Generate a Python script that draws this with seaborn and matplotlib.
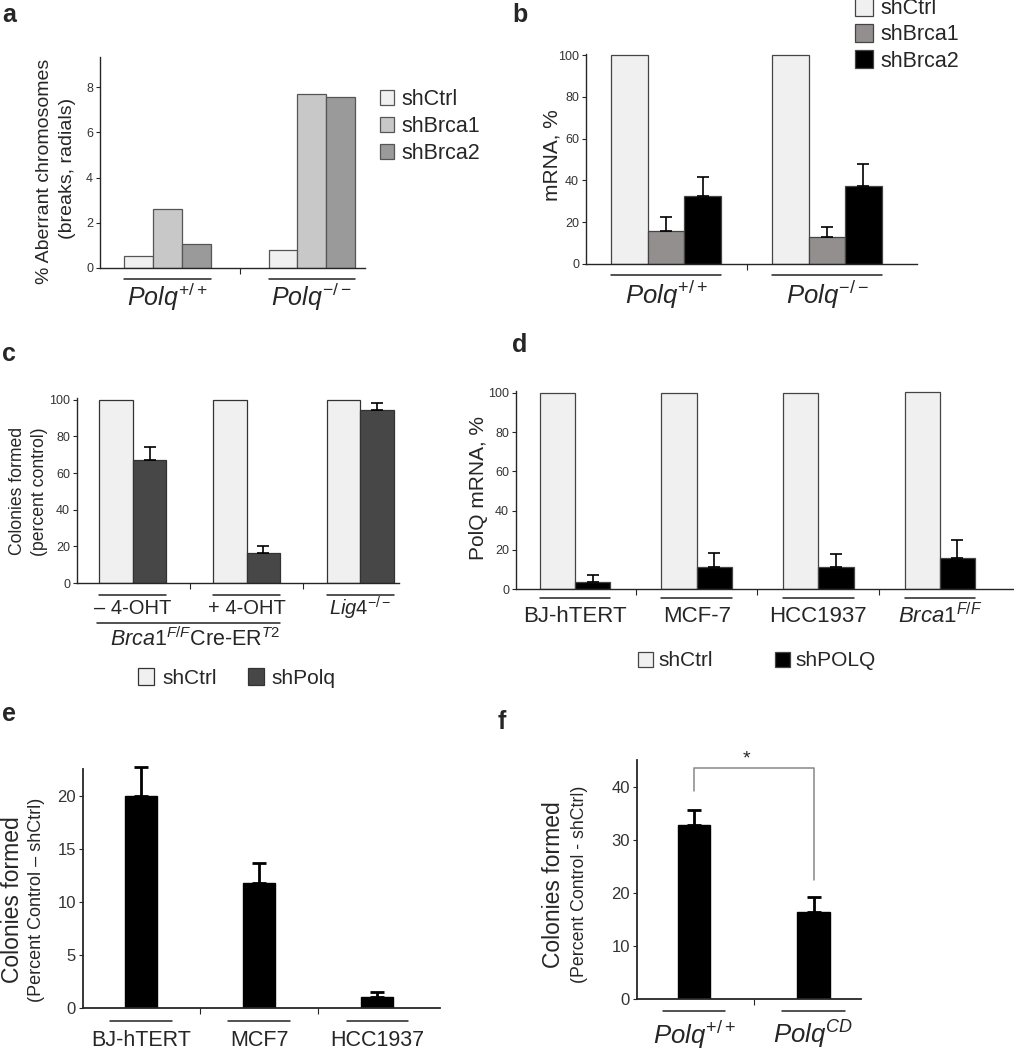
import numpy as np
import pandas as pd
import matplotlib
matplotlib.use("Agg")
import matplotlib.pyplot as plt
import matplotlib.transforms as mtrans
import seaborn as sns

sns.set_style("ticks")
plt.rcParams['font.family'] = ['Liberation Sans', 'DejaVu Sans']
plt.rcParams['mathtext.fontset'] = 'custom'
plt.rcParams['mathtext.rm'] = 'Liberation Sans'
plt.rcParams['mathtext.it'] = 'Liberation Sans:italic'
plt.rcParams['mathtext.bf'] = 'Liberation Sans:bold'
plt.rcParams['axes.linewidth'] = 1.0

# ---- data ----
# a
a_groups = [r"$Polq^{+/+}$", r"$Polq^{-/-}$"]
a_hue = ["shCtrl", "shBrca1", "shBrca2"]
a_vals = {"shCtrl": [0.55, 0.8], "shBrca1": [2.6, 7.7], "shBrca2": [1.05, 7.55]}

# b
b_groups = [r"$Polq^{+/+}$", r"$Polq^{-/-}$"]
b_hue = ["shCtrl", "shBrca1", "shBrca2"]
b_vals = {"shCtrl": [100, 100], "shBrca1": [15.8, 13.0], "shBrca2": [32.5, 37.5]}
b_err = {"shCtrl": [0, 0], "shBrca1": [6.5, 4.5], "shBrca2": [9.3, 10.5]}

# c
c_groups = ["– 4-OHT", "+ 4-OHT", r"$\mathit{Lig4}^{-/-}$"]
c_hue = ["shCtrl", "shPolq"]
c_vals = {"shCtrl": [100, 100, 100], "shPolq": [67.3, 16.4, 94.2]}
c_err = {"shCtrl": [0, 0, 0], "shPolq": [7.0, 3.6, 4.3]}

# d
d_groups = ["BJ-hTERT", "MCF-7", "HCC1937", r"$\mathit{Brca1}^{F/F}$"]
d_hue = ["shCtrl", "shPOLQ"]
d_vals = {"shCtrl": [100, 100, 100, 100.3], "shPOLQ": [3.7, 11.4, 11.1, 15.7]}
d_err = {"shCtrl": [0, 0, 0, 0], "shPOLQ": [3.6, 7.0, 6.8, 9.3]}

# e
e_groups = ["BJ-hTERT", "MCF7", "HCC1937"]
e_vals = [20.0, 11.8, 1.07]
e_err = [2.8, 1.95, 0.47]

# f
f_groups = [r"$Polq^{+/+}$", r"$Polq^{CD}$"]
f_vals = [32.8, 16.4]
f_err = [2.8, 2.9]

W, H = 1014, 1050
fig = plt.figure(figsize=(W / 100, H / 100), dpi=100)


def rect(l, t, r, b):
    return [l / W, 1 - b / H, (r - l) / W, (b - t) / H]


def long_df(groups, hue, vals):
    rows = []
    for h in hue:
        for g, v in zip(groups, vals[h]):
            rows.append({"group": g, "sh": h, "value": v})
    df = pd.DataFrame(rows)
    df["group"] = pd.Categorical(df["group"], categories=groups, ordered=True)
    return df


def style_axis(ax, ylim, xlim, yticks, labelsize, n):
    ax.set_ylim(*ylim)
    ax.set_xlim(*xlim)
    ax.set_yticks(yticks)
    ax.set_xlabel("")
    ax.set_ylabel("")
    sns.despine(ax=ax)
    ax.tick_params(axis='y', length=3, width=0.8, pad=2, labelsize=labelsize, labelcolor='#333333')
    ax.set_xticks(range(n))
    ax.set_xticklabels([])
    ax.tick_params(axis='x', which='major', length=0)
    ax.set_xticks([i + 0.5 for i in range(n - 1)], minor=True)
    ax.tick_params(axis='x', which='minor', length=4, width=0.8, direction='out')


def group_labels(ax, labels, half, under_px, label_px, fontsize):
    tl = ax.get_xaxis_transform() + mtrans.ScaledTranslation(0, -under_px / 100, fig.dpi_scale_trans)
    tt = ax.get_xaxis_transform() + mtrans.ScaledTranslation(0, -label_px / 100, fig.dpi_scale_trans)
    for i, lab in enumerate(labels):
        ax.plot([i - half, i + half], [0, 0], color='#222222', lw=1.1, transform=tl, clip_on=False)
        ax.text(i, 0, lab, ha='center', va='center', fontsize=fontsize, transform=tt)


def add_errors(ax, errs, lw, cap):
    for cont, e in zip(ax.containers, errs):
        xs = [b.get_x() + b.get_width() / 2 for b in cont]
        ys = [b.get_height() for b in cont]
        e = np.array(e, dtype=float)
        keep = e > 0
        if keep.any():
            eb = ax.errorbar(np.array(xs)[keep], np.array(ys)[keep],
                             yerr=[np.zeros(keep.sum()), e[keep]], fmt='none',
                             ecolor='black', elinewidth=lw, capsize=cap, capthick=lw, zorder=1)
            for art in eb.lines[1] + eb.lines[2]:
                art.set_clip_on(False)


def letter(x, y, s):
    fig.text(x / W, 1 - y / H, s, fontsize=18, fontweight='bold', ha='left', va='center')


def vlabel(x, y, s, size):
    fig.text(x / W, 1 - y / H, s, fontsize=size, rotation=90, ha='center', va='center')


# ---- panel a ----
ax = fig.add_axes(rect(100, 57, 365, 268))
df = long_df(a_groups, a_hue, a_vals)
sns.barplot(data=df, x="group", y="value", hue="sh", hue_order=a_hue,
            palette=['#f0f0f0', '#c8c8c8', '#9a9a9a'], width=0.6,
            edgecolor='#555555', linewidth=0.9, errorbar=None, ax=ax)
style_axis(ax, (0, 9.34), (-0.47, 1.37), [0, 2, 4, 6, 8], 9, 2)
group_labels(ax, a_groups, 0.3, 11, 29, 18)
sns.move_legend(ax, 'upper left', bbox_to_anchor=(380 / W, 1 - 89 / H), bbox_transform=fig.transFigure,
                title=None, frameon=False, fontsize=15.5, handlelength=0.65, handleheight=0.7,
                labelspacing=0.27, handletextpad=0.35, borderpad=0, borderaxespad=0)
vlabel(45, 171, "% Aberrant chromosomes", 14)
vlabel(68, 168, "(breaks, radials)", 14)
letter(2, 15, "a")

# ---- panel b ----
ax = fig.add_axes(rect(586, 54, 917, 264))
df = long_df(b_groups, b_hue, b_vals)
sns.barplot(data=df, x="group", y="value", hue="sh", hue_order=b_hue,
            palette=['#f0f0f0', '#958e8e', '#000000'], width=0.68,
            edgecolor='#444444', linewidth=0.9, errorbar=None, ax=ax)
add_errors(ax, [b_err[h] for h in b_hue], 1.2, 4)
style_axis(ax, (0, 100.5), (-0.497, 1.559), [0, 20, 40, 60, 80, 100], 9, 2)
group_labels(ax, b_groups, 0.34, 11, 31, 18.5)
sns.move_legend(ax, 'upper left', bbox_to_anchor=(855 / W, 1 + 2 / H), bbox_transform=fig.transFigure,
                title=None, frameon=False, fontsize=15.5, handlelength=0.82, handleheight=0.9,
                labelspacing=0.22, handletextpad=0.34, borderpad=0, borderaxespad=0)
vlabel(552, 155, "mRNA, %", 15)
letter(512, 15, "b")

# ---- panel c ----
ax = fig.add_axes(rect(77, 398, 399, 583))
df = long_df(c_groups, c_hue, c_vals)
sns.barplot(data=df, x="group", y="value", hue="sh", hue_order=c_hue,
            palette=['#f0f0f0', '#474747'], width=0.59,
            edgecolor='#333333', linewidth=0.9, errorbar=None, ax=ax)
add_errors(ax, [c_err[h] for h in c_hue], 1.2, 4)
style_axis(ax, (0, 101), (-0.49, 2.34), [0, 20, 40, 60, 80, 100], 9, 3)
group_labels(ax, c_groups, 0.295, 12, 25, 14.5)
tl = ax.get_xaxis_transform() + mtrans.ScaledTranslation(0, -40 / 100, fig.dpi_scale_trans)
ax.plot([-0.31, 1.295], [0, 0], color='#222222', lw=1.1, transform=tl, clip_on=False)
tt = ax.get_xaxis_transform() + mtrans.ScaledTranslation(0, -56 / 100, fig.dpi_scale_trans)
ax.text(0.55, 0, r"$\mathit{Brca1}^{F/F}$Cre-ER$^{T2}$", ha='center', va='center', fontsize=15.5, transform=tt)
sns.move_legend(ax, 'center left', bbox_to_anchor=(138 / W, 1 - 678 / H), bbox_transform=fig.transFigure,
                title=None, frameon=False, ncol=2, fontsize=15, handlelength=0.77, handleheight=0.87,
                columnspacing=1.5, handletextpad=0.38, borderpad=0, borderaxespad=0)
vlabel(18, 491, "Colonies formed", 12.7)
vlabel(39, 492, "(percent control)", 12.7)
letter(2, 354, "c")

# ---- panel d ----
ax = fig.add_axes(rect(516, 391, 1014, 589))
df = long_df(d_groups, d_hue, d_vals)
sns.barplot(data=df, x="group", y="value", hue="sh", hue_order=d_hue,
            palette=['#f0f0f0', '#000000'], width=0.58,
            edgecolor='#444444', linewidth=0.9, errorbar=None, ax=ax)
add_errors(ax, [d_err[h] for h in d_hue], 1.2, 4)
style_axis(ax, (0, 101), (-0.486, 3.61), [0, 20, 40, 60, 80, 100], 9, 4)
group_labels(ax, d_groups, 0.29, 9, 27, 16)
sns.move_legend(ax, 'center left', bbox_to_anchor=(638 / W, 1 - 661 / H), bbox_transform=fig.transFigure,
                title=None, frameon=False, ncol=2, fontsize=15, handlelength=0.72, handleheight=0.72,
                columnspacing=3.0, handletextpad=0.25, borderpad=0, borderaxespad=0)
vlabel(478, 488, "PolQ mRNA, %", 15)
letter(512, 345, "d")

# ---- panel e ----
ax = fig.add_axes(rect(83, 769, 440, 1008))
sns.barplot(x=e_groups, y=e_vals, color='black', width=0.27, saturation=1,
            edgecolor='black', errorbar=None, ax=ax)
add_errors(ax, [e_err], 2.0, 5)
style_axis(ax, (0, 22.6), (-0.49, 2.53), [0, 5, 10, 15, 20], 12, 3)
ax.spines['left'].set_linewidth(1.3)
ax.spines['bottom'].set_linewidth(1.3)
group_labels(ax, e_groups, 0.26, 13, 32, 15.5)
vlabel(13, 900, "Colonies formed", 16.5)
vlabel(37, 900, "(Percent Control – shCtrl)", 13)
letter(2, 714, "e")

# ---- panel f ----
ax = fig.add_axes(rect(637, 760, 861, 999))
sns.barplot(x=f_groups, y=f_vals, color='black', width=0.27, saturation=1,
            edgecolor='black', errorbar=None, ax=ax)
add_errors(ax, [f_err], 2.0, 5)
style_axis(ax, (0, 45.1), (-0.477, 1.397), [0, 10, 20, 30, 40], 12, 2)
ax.spines['left'].set_linewidth(1.3)
ax.spines['bottom'].set_linewidth(1.3)
group_labels(ax, f_groups, 0.26, 12, 36, 18.5)
ax.plot([0, 0, 1, 1], [39.3, 43.5, 43.5, 22.5], color='#888888', lw=1.1, clip_on=False)
ax.text(0.44, 45.3, "*", ha='center', va='center', fontsize=14, clip_on=False)
vlabel(554, 885, "Colonies formed", 16.5)
vlabel(579, 884, "(Percent Control - shCtrl)", 12.8)
letter(498, 722, "f")

fig.savefig("out.png", dpi=100)
